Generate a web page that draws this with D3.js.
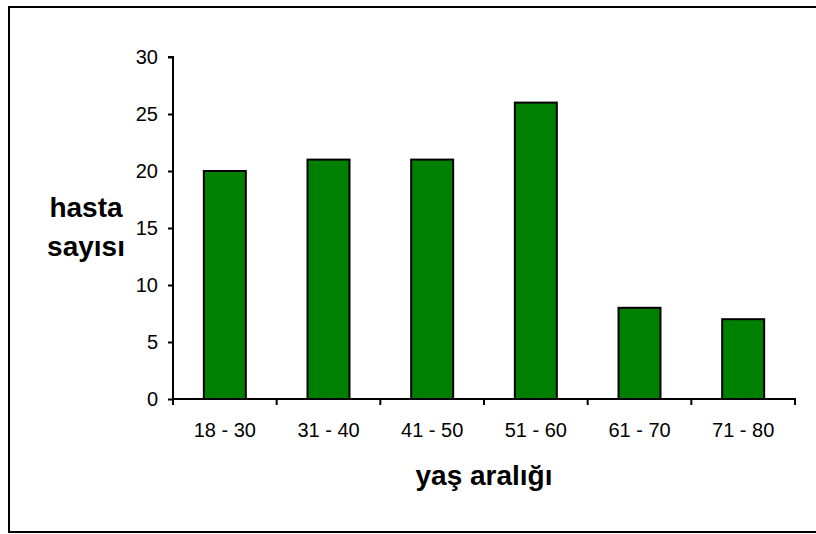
<!DOCTYPE html>
<html>
<head>
<meta charset="utf-8">
<script src="https://cdn.jsdelivr.net/npm/d3@7/dist/d3.min.js"></script>
<style>
  html, body { margin: 0; padding: 0; background: #fff; }
  svg { display: block; }
  text { font-family: "Liberation Sans", Arial, sans-serif; fill: #000; }
</style>
</head>
<body>
<svg id="chart" width="816" height="534"></svg>
<script>
// Age groups and patient counts
const categories = ["18 - 30", "31 - 40", "41 - 50", "51 - 60", "61 - 70", "71 - 80"];
const counts = [20, 21, 21, 26, 8, 7];
const yTicks = [0, 5, 10, 15, 20, 25, 30];

const svg = d3.select("#chart");

// outer frame
svg.append("rect")
  .attr("x", 9).attr("y", 7)
  .attr("width", 812).attr("height", 525)
  .attr("fill", "none").attr("stroke", "#000").attr("stroke-width", 2);

const plotLeft = 173, plotRight = 795, plotTop = 57, plotBottom = 399;

const x = d3.scaleBand().domain(categories).range([plotLeft, plotRight])
  .paddingInner(0.595).paddingOuter(0.2975);
const y = d3.scaleLinear().domain([0, 30]).range([plotBottom, plotTop]);

// bars
svg.append("g").selectAll("rect")
  .data(categories)
  .join("rect")
  .attr("x", d => x(d))
  .attr("y", (d, i) => y(counts[i]))
  .attr("width", x.bandwidth())
  .attr("height", (d, i) => y(0) - y(counts[i]))
  .attr("fill", "#008000")
  .attr("stroke", "#000")
  .attr("stroke-width", 2);

// y axis
const yAxis = svg.append("g")
  .attr("transform", `translate(${plotLeft},0)`)
  .call(d3.axisLeft(y).tickValues(yTicks).tickSize(5).tickPadding(10).tickFormat(d3.format("d")));
yAxis.attr("font-size", null).attr("font-family", null);
yAxis.select(".domain").attr("stroke-width", 2).attr("d", `M-5,${plotTop}H0V${plotBottom}`);
yAxis.selectAll(".tick line").attr("stroke-width", 2);
yAxis.selectAll(".tick text").style("font-size", "20px");

// x axis with ticks at band boundaries
const xAxis = svg.append("g")
  .attr("transform", `translate(0,${plotBottom})`)
  .call(d3.axisBottom(x).tickSize(0).tickPadding(0));
xAxis.attr("font-size", null).attr("font-family", null);
xAxis.select(".domain").attr("stroke-width", 2).attr("d", `M${plotLeft},0H${plotRight}V6`);
xAxis.selectAll(".tick text").style("font-size", "20px").attr("dy", null).attr("y", 38);
const step = x.step();
xAxis.append("g").selectAll("line")
  .data(d3.range(categories.length + 1))
  .join("line")
  .attr("x1", i => plotLeft + i * step).attr("x2", i => plotLeft + i * step)
  .attr("y1", 0).attr("y2", 6)
  .attr("stroke", "#000").attr("stroke-width", 2);

// axis titles
svg.append("text")
  .attr("x", 86).attr("y", 217)
  .attr("text-anchor", "middle")
  .style("font-size", "28px").attr("font-weight", "bold")
  .text("hasta");
svg.append("text")
  .attr("x", 86).attr("y", 256)
  .attr("text-anchor", "middle")
  .style("font-size", "28px").attr("font-weight", "bold")
  .text("sayısı");
svg.append("text")
  .attr("x", 484).attr("y", 485)
  .attr("text-anchor", "middle")
  .style("font-size", "28px").attr("font-weight", "bold")
  .text("yaş aralığı");
</script>
</body>
</html>
